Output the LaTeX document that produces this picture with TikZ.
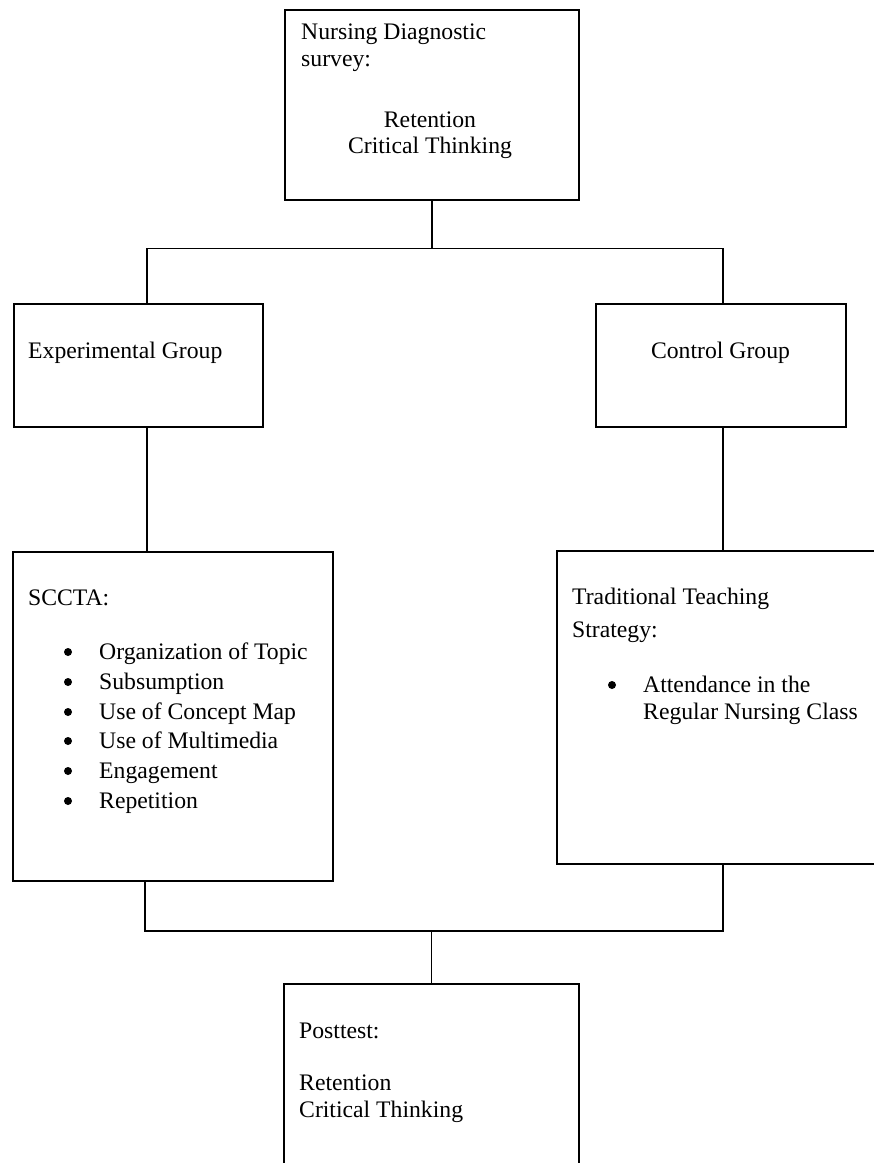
\documentclass[tikz,border=0pt]{standalone}
\usepackage{fontspec}
\setmainfont{Liberation Serif}
\begin{document}
\begin{tikzpicture}[x=1pt,y=-1pt,
  box/.style={draw, line width=1.6pt, inner sep=0pt, anchor=north west},
  txt/.style={anchor=base west, inner sep=0pt, font=\fontsize{23.7}{27}\selectfont},
  ctxt/.style={txt, anchor=base},
  bul/.style={circle, fill=black, inner sep=0pt, minimum size=8pt},
  link/.style={line width=1.6pt}]
\useasboundingbox (0,0) rectangle (874,1163);
% boxes
\node[box, minimum width=294pt, minimum height=190pt] (top) at (284,9) {};
\node[box, minimum width=249pt, minimum height=123pt] (exp) at (13,303) {};
\node[box, minimum width=250pt, minimum height=123pt] (ctl) at (595,303) {};
\node[box, minimum width=320pt, minimum height=329pt] (scc) at (12,551) {};
\node[box, minimum width=320pt, minimum height=313pt] (trd) at (556,550) {};
\node[box, minimum width=295pt, minimum height=182pt] (post) at (283,983) {};
% texts
\node[txt] (t1) at (301,39) {Nursing Diagnostic};
\node[txt] (t2) at (301,66) {survey:};
\node[ctxt] (t3) at (430,127) {Retention};
\node[ctxt] (t4) at (430,153) {Critical Thinking};
\node[txt] (et) at (28,358) {Experimental Group};
\node[ctxt] (ct) at (720.5,358) {Control Group};
\node[txt] (s0) at (28,605) {SCCTA:};
\node[bul] (sb1) at (68,652) {};
\node[txt] (s1) at (99,659) {Organization of Topic};
\node[bul] (sb2) at (68,682) {};
\node[txt] (s2) at (99,689) {Subsumption};
\node[bul] (sb3) at (68,712) {};
\node[txt] (s3) at (99,719) {Use of Concept Map};
\node[bul] (sb4) at (68,741) {};
\node[txt] (s4) at (99,748) {Use of Multimedia};
\node[bul] (sb5) at (68,771) {};
\node[txt] (s5) at (99,778) {Engagement};
\node[bul] (sb6) at (68,801) {};
\node[txt] (s6) at (99,808) {Repetition};
\node[txt] (tt1) at (572,604) {Traditional Teaching};
\node[txt] (tt2) at (572,637) {Strategy:};
\node[bul] (tb1) at (612,685) {};
\node[txt] (tt3) at (643,692) {Attendance in the};
\node[txt] (tt4) at (643,719) {Regular Nursing Class};
\node[txt] (p1) at (299,1038) {Posttest:};
\node[txt] (p2) at (299,1090) {Retention};
\node[txt] (p3) at (299,1117) {Critical Thinking};
% connectors
\coordinate (xl) at (147,0);
\coordinate (xr) at (723,0);
\coordinate (xb) at (145,0);
\path (top.south) ++(0,48) coordinate (j1);
\path (post.north) ++(0,-52) coordinate (j2);
\draw[link] (top.south) -- (j1);
\draw[link] (xl |- exp.north) |- (j1) -| (xr |- ctl.north);
\draw[link] (xl |- exp.south) -- (xl |- scc.north);
\draw[link] (xr |- ctl.south) -- (xr |- trd.north);
\draw[link] (xb |- scc.south) |- (j2) -| (xr |- trd.south);
\draw[link] (j2) -- (post.north);
\end{tikzpicture}
\end{document}
